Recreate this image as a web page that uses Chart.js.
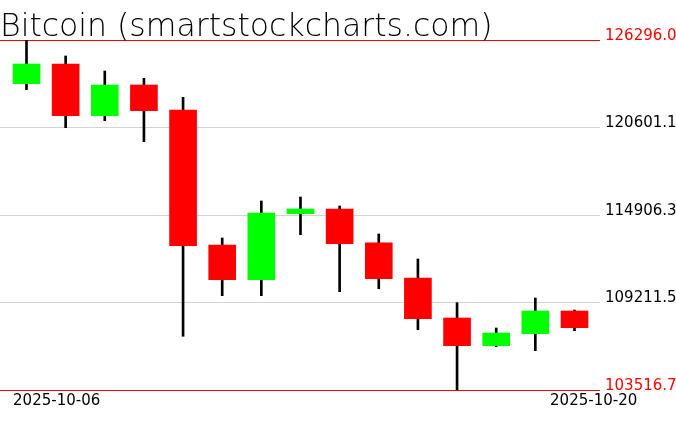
<!DOCTYPE html>
<html>
<head>
<meta charset="utf-8">
<script src="https://cdn.jsdelivr.net/npm/chart.js@4/dist/chart.umd.min.js"></script>
<style>
    html, body { margin: 0; padding: 0; background: #fff; }
    #wrap { width: 676px; height: 431px; }
</style>
</head>
<body>
<div id="wrap"><canvas id="btc-chart" width="676" height="431"></canvas></div>
<script>
// Daily candles, values
const dates = ['2025-10-06', '2025-10-07', '2025-10-08', '2025-10-09', '2025-10-10',
    '2025-10-11', '2025-10-12', '2025-10-13', '2025-10-14', '2025-10-15',
    '2025-10-16', '2025-10-17', '2025-10-18', '2025-10-19', '2025-10-20'];
const open  = [123452, 124734, 121369, 123367, 121740, 112954, 110695, 114991, 115297, 113103, 110806, 108203, 106400, 107181, 108658];
const high  = [126296.0, 125255, 124278, 123803, 122567, 113409, 115817, 116078, 115492, 113670, 112043, 109198, 107552, 109504, 108723];
const low   = [123061, 120588, 121044, 119677, 107012, 109654, 109654, 113624, 109914, 110110, 107441, 103516.7, 106335, 106074, 107376];
const close = [124734, 121369, 123367, 121695, 112908, 110695, 115036, 115297, 113038, 110760, 108157, 106400, 107226, 108658, 107571];

const yTicks = [103516.7, 109211.5, 114906.3, 120601.1, 126296.0];
const xTickLabels = ['2025-10-06', '2025-10-20'];

const UP = '#00ff00';
const DOWN = '#ff0000';

const bodyColors = dates.map((d, i) => close[i] >= open[i] ? UP : DOWN);

const ctx = document.getElementById('btc-chart').getContext('2d');

new Chart(ctx, {
    type: 'bar',
    data: {
        datasets: [
            {
                label: 'body',
                data: dates.map((d, i) => ({ x: i, y: [open[i], close[i]] })),
                backgroundColor: bodyColors,
                borderWidth: 0,
                barThickness: 27,
                grouped: false
            },
            {
                label: 'wick',
                data: dates.map((d, i) => ({ x: i, y: [low[i], high[i]] })),
                backgroundColor: '#000',
                borderWidth: 0,
                barThickness: 2,
                grouped: false
            }
        ]
    },
    options: {
        responsive: false,
        animation: false,
        devicePixelRatio: 1,
        layout: { padding: 0 },
        plugins: {
            legend: { display: false },
            tooltip: { enabled: false },
            title: {
                display: true,
                text: 'Bitcoin (smartstockcharts.com)',
                align: 'start',
                color: '#000',
                font: { family: 'DejaVu Sans', size: 31.5, weight: 200, lineHeight: 1 },
                padding: { top: 12, bottom: -3.5 }
            }
        },
        scales: {
            x: {
                type: 'linear',
                min: -0.677,
                max: 14.652,
                offset: false,
                grid: { display: false, drawTicks: false, offset: false },
                border: { display: false },
                afterBuildTicks: scale => {
                    scale.ticks = [0.77, 14.49].map(v => ({ value: v }));
                },
                afterFit: scale => { scale.height = 41; },
                ticks: {
                    autoSkip: false,
                    maxRotation: 0,
                    padding: 2,
                    color: '#000',
                    font: { family: 'DejaVu Sans', size: 15 },
                    callback: (val, idx) => xTickLabels[idx]
                }
            },
            y: {
                position: 'right',
                min: yTicks[0],
                max: yTicks[yTicks.length - 1],
                z: 1,
                border: { display: false },
                afterBuildTicks: scale => {
                    scale.ticks = yTicks.map(v => ({ value: v }));
                },
                afterFit: scale => { scale.width = 76; },
                grid: {
                    drawTicks: false,
                    lineWidth: 1,
                    color: c => (c.index === 0 || c.index === yTicks.length - 1) ? '#ff0000' : '#d3d3d3'
                },
                ticks: {
                    padding: 5,
                    labelOffset: -4,
                    font: { family: 'DejaVu Sans', size: 15 },
                    color: c => (c.index === 0 || c.index === yTicks.length - 1) ? '#ff0000' : '#000',
                    callback: val => Number(val).toFixed(1)
                }
            }
        }
    }
});
</script>
</body>
</html>
